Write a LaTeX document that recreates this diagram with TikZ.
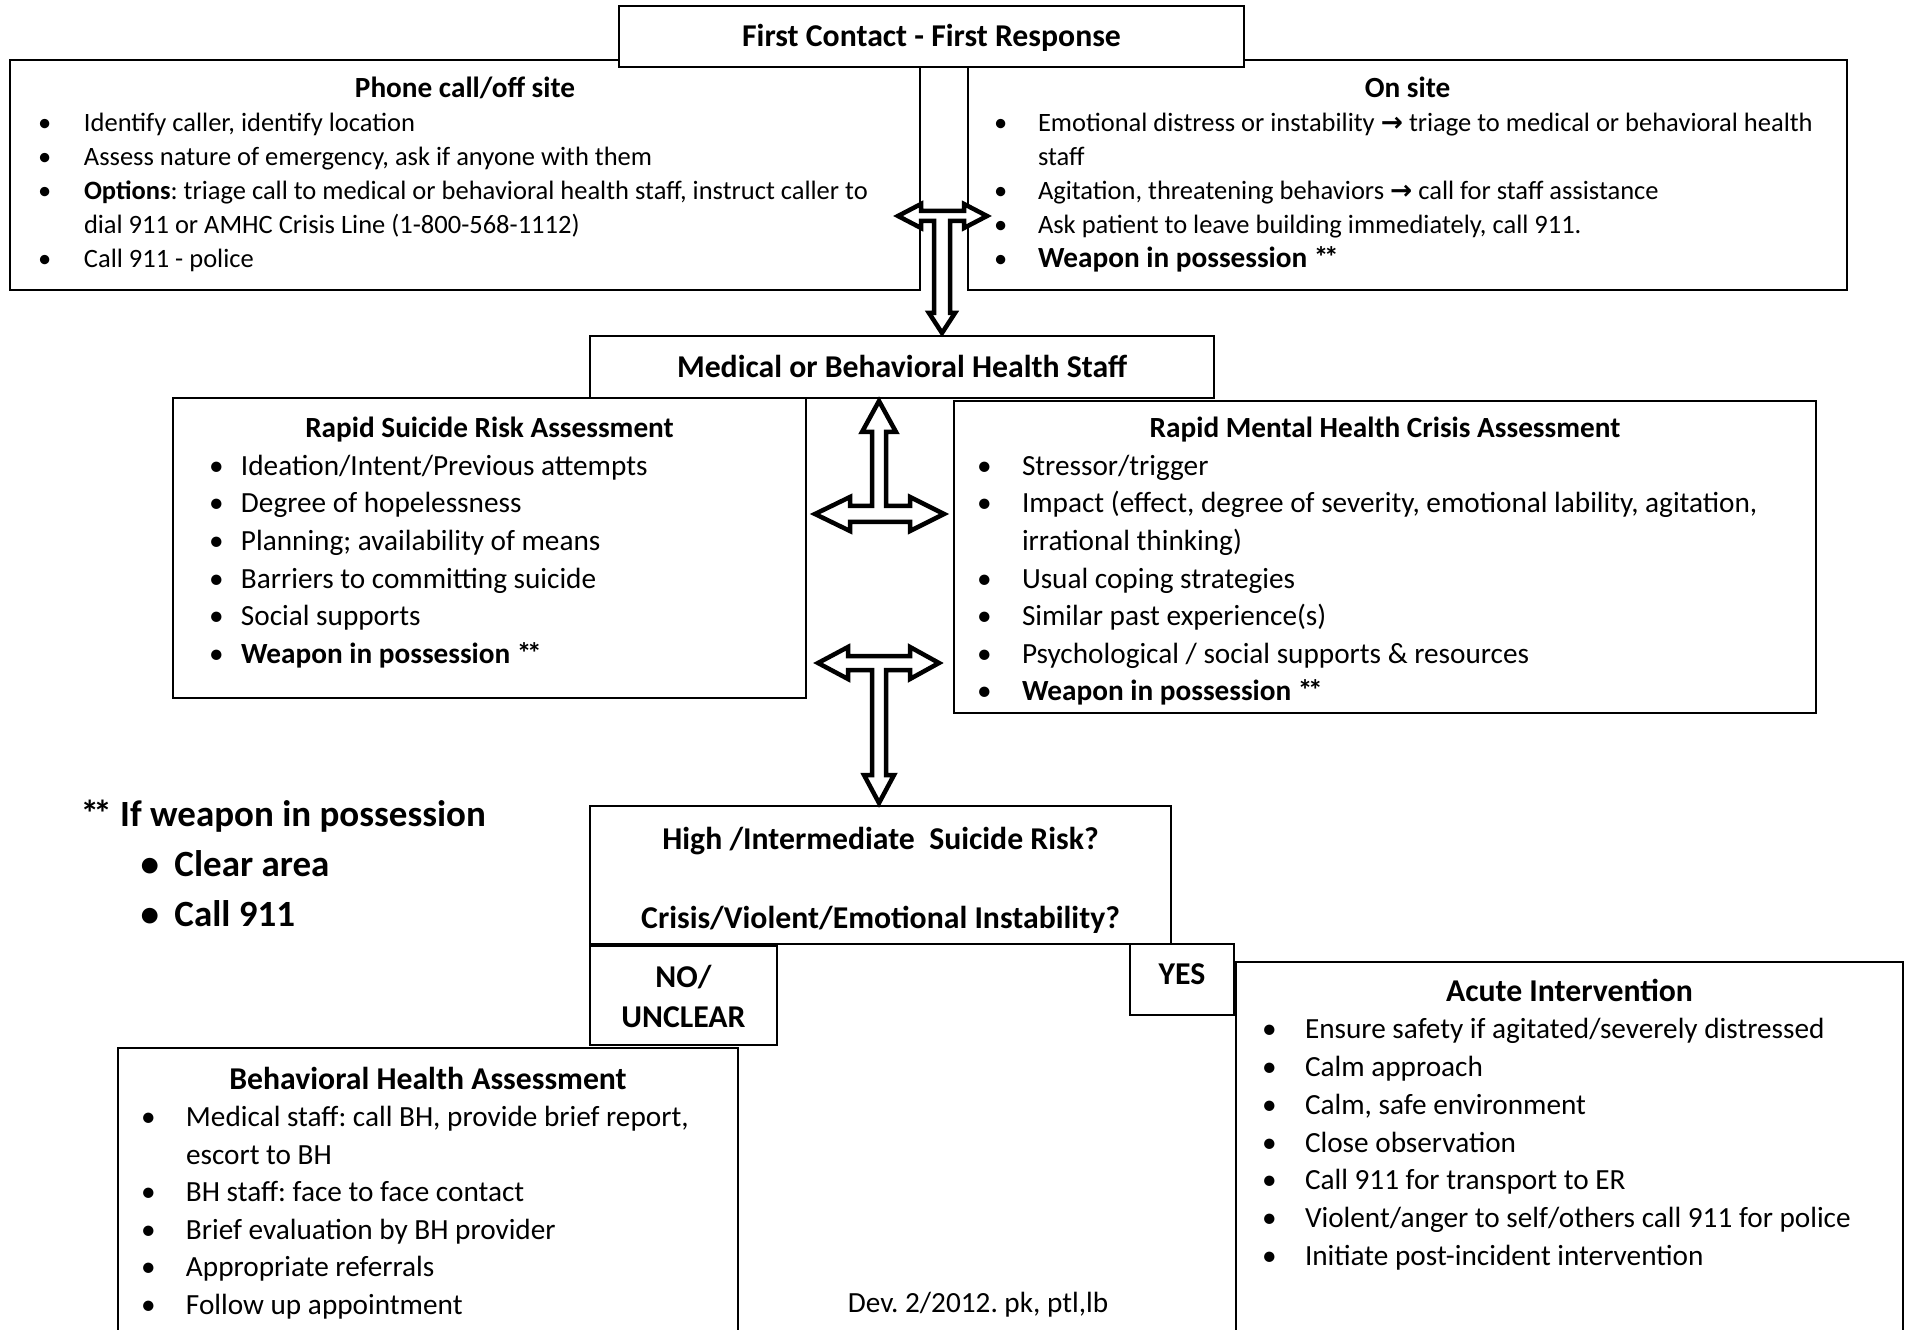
\documentclass[tikz,border=0pt]{standalone}
\usepackage{fontspec}
\setmainfont{Carlito}
\newfontfamily\arrowfont{DejaVu Sans}
\frenchspacing

% one unit = one pixel of the 1910x1330 sheet
\newdimen\px \px=0.4pt
\newdimen\buloff \newdimen\txtoff
\newcommand\bxt[3]{\begin{minipage}[t][#2\px][t]{#1\px}#3\end{minipage}}
\newcommand\ttl[3]{{\centering\fontsize{#2}{#2}\selectfont\bfseries\rule{0pt}{#1\px}#3\par}}
\newcommand\offs[2]{\buloff=#1\px\relax\txtoff=#2\px\relax\raggedright}
\newcommand\bul[1]{\par\hangindent=\txtoff\hangafter=1\noindent\hbox to\txtoff{\hskip\buloff\textbullet\hss}#1}
\newcommand\stars{*\kern-0.15em*}

\begin{document}
\begin{tikzpicture}[x=0.4pt,y=-0.4pt,
  box/.style={draw,line width=0.8pt,fill=white,inner sep=0pt,outer sep=0pt,anchor=north west},
  blockarrow/.style={draw,line width=1.8pt,fill=white,line join=miter}]

  \useasboundingbox (0,0) rectangle (1910,1330);

  % top row
  \node[box] (phone) at (10,60) {\bxt{910}{230}{\fontsize{10.6}{13.6}\selectfont
    \ttl{38}{11.7}{Phone call/off site}
    \offs{28}{74}
    \bul{Identify caller, identify location}
    \bul{Assess nature of emergency, ask if anyone with them}
    \bul{\textbf{Options}: triage call to medical or behavioral health staff, instruct caller to\newline dial 911 or AMHC Crisis Line (1-800-568-1112)}
    \bul{Call 911 - police}}};

  \node[box] (onsite) at (968,60) {\bxt{879}{230}{\fontsize{10.6}{13.6}\selectfont
    \ttl{38}{11.7}{On site}
    \offs{26}{70}
    \bul{Emotional distress or instability {\arrowfont\bfseries →} triage to medical or behavioral health\newline staff}
    \bul{Agitation, threatening behaviors {\arrowfont\bfseries →} call for staff assistance}
    \bul{Ask patient to leave building immediately, call 911.}
    \bul{\fontsize{11.7}{13.6}\selectfont\textbf{Weapon in possession \stars}}}};

  \node[box] (first) at (619,6) {\bxt{625}{61}{\ttl{41}{12.7}{First Contact - First Response}}};

  % assessment row
  \node[box] (medical) at (590,336) {\bxt{624}{62}{\ttl{42}{12.7}{Medical or Behavioral Health Staff}}};

  \node[box] (suicide) at (173,398) {\bxt{633}{300}{\fontsize{11.7}{15}\selectfont
    \ttl{40}{11.7}{Rapid Suicide Risk Assessment}
    \offs{36}{68}
    \bul{Ideation/Intent/Previous attempts}
    \bul{Degree of hopelessness}
    \bul{Planning; availability of means}
    \bul{Barriers to committing suicide}
    \bul{Social supports}
    \bul{\textbf{Weapon in possession \stars}}}};

  \node[box] (crisis) at (954,401) {\bxt{862}{312}{\fontsize{11.7}{15}\selectfont
    \ttl{37}{11.7}{Rapid Mental Health Crisis Assessment}
    \offs{23}{68}
    \bul{Stressor/trigger}
    \bul{Impact (effect, degree of severity, emotional lability, agitation,\newline irrational thinking)}
    \bul{Usual coping strategies}
    \bul{Similar past experience(s)}
    \bul{Psychological / social supports \& resources}
    \bul{\textbf{Weapon in possession \stars}}}};

  % decision
  \node[box] (risk) at (590,806) {\bxt{581}{138}{\centering\fontsize{12.7}{79\px}\selectfont\bfseries
    \rule{0pt}{43\px}High /Intermediate\ \ Suicide Risk?\par
    Crisis/Violent/Emotional Instability?\par}};
  \node[box] (nounclear) at (590,946) {\bxt{187}{99}{\centering\fontsize{12.7}{40\px}\selectfont\bfseries
    \rule{0pt}{41\px}NO/\par UNCLEAR\par}};
  \node[box] (yes) at (1130,944) {\bxt{104}{71}{\centering\fontsize{12.7}{40\px}\selectfont\bfseries
    \rule{0pt}{40\px}YES\par}};

  % outcomes
  \node[box] (bha) at (118,1048) {\bxt{620}{330}{\fontsize{11.7}{15}\selectfont
    \ttl{41}{12.7}{Behavioral Health Assessment}
    \offs{23}{68}
    \bul{Medical staff: call BH, provide brief report,\newline escort to BH}
    \bul{BH staff: face to face contact}
    \bul{Brief evaluation by BH provider}
    \bul{Appropriate referrals}
    \bul{Follow up appointment}}};

  \node[box] (acute) at (1236,962) {\bxt{667}{420}{\fontsize{11.7}{15.1}\selectfont
    \ttl{39}{12.7}{Acute Intervention}
    \offs{26}{69}
    \bul{Ensure safety if agitated/severely distressed}
    \bul{Calm approach}
    \bul{Calm, safe environment}
    \bul{Close observation}
    \bul{Call 911 for transport to ER}
    \bul{Violent/anger to self/others call 911 for police}
    \bul{Initiate post-incident intervention}}};

  \node[anchor=north west,inner sep=0pt] (note) at (80,790) {\bxt{520}{160}{\fontsize{14.8}{50\px}\selectfont\bfseries
    \rule{0pt}{36\px}\stars{} If weapon in possession\par
    \offs{60}{94}
    \bul{Clear area}
    \bul{Call 911}}};

  \node[font=\fontsize{11.7}{14}\selectfont] (dev) at (978,1305) {Dev. 2/2012. pk, ptl,lb};

  % block arrows
  \coordinate (tee0) at (942,216);
  \coordinate (tee1) at (879,514);
  \coordinate (tee2) at (879,663);

  \draw[blockarrow,shift={(tee0)}] (-44,0) -- (-21,-12) -- (-21,-5) -- (22,-5) -- (22,-12) -- (45,0)
    -- (22,12) -- (22,5) -- (8,5) -- (8,97) -- (13,97) -- (0,117) -- (-13,97) -- (-8,97)
    -- (-8,5) -- (-21,5) -- (-21,12) -- cycle;

  \draw[blockarrow,shift={(tee1)}] (-64,0) -- (-29,-17) -- (-29,-8) -- (-7,-8) -- (-7,-82) -- (-17,-82)
    -- (0,-113) -- (17,-82) -- (7,-82) -- (7,-8) -- (31,-8) -- (31,-17) -- (65,0) -- (31,17)
    -- (31,8) -- (-29,8) -- (-29,17) -- cycle;

  \draw[blockarrow,shift={(tee2)}] (-61,0) -- (-31,-16) -- (-31,-7) -- (31,-7) -- (31,-16) -- (60,0)
    -- (31,16) -- (31,7) -- (7,7) -- (7,112) -- (15,112) -- (0,140) -- (-15,112) -- (-7,112)
    -- (-7,7) -- (-31,7) -- (-31,16) -- cycle;

\end{tikzpicture}
\end{document}
